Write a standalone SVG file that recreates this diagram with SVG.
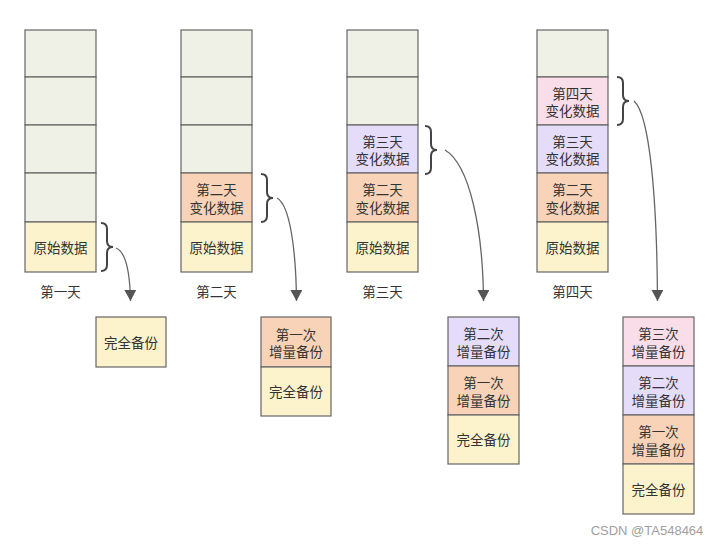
<svg xmlns="http://www.w3.org/2000/svg" width="719" height="545" viewBox="0 0 719 545">
<style>
rect{stroke:#666;stroke-width:1.2}
.e{fill:#eff1e6}.y{fill:#fcf3cd}.o{fill:#f9d3b8}.p{fill:#e4dcf9}.k{fill:#f9dde9}
text{font-family:"Liberation Sans","Noto Sans CJK SC",sans-serif;font-size:13.5px;fill:#333;text-anchor:middle;dominant-baseline:central}
.w{font-family:"Liberation Sans",sans-serif;fill:#a0a0a0;font-size:13px}
.br{fill:none;stroke:#444;stroke-width:2}
.ar{fill:none;stroke:#666;stroke-width:1.3}
</style>
<defs>
<marker id="ah" markerUnits="userSpaceOnUse" markerWidth="14" markerHeight="12" refX="11" refY="6" orient="auto">
<path d="M0,0 L11,6 L0,12 Z" fill="#555"/>
</marker>
</defs>
<rect width="719" height="545" fill="#fff" style="stroke:none"/>

<g id="day1">
<rect class="e" x="25" y="30" width="71" height="47"/>
<rect class="e" x="25" y="77" width="71" height="48"/>
<rect class="e" x="25" y="125" width="71" height="48"/>
<rect class="e" x="25" y="173" width="71" height="49"/>
<rect class="y" x="25" y="222" width="71" height="50"/>
<text x="60.5" y="248">原始数据</text>
<text x="60.5" y="292">第一天</text>
</g>
<g id="day2">
<rect class="e" x="181" y="30" width="71" height="47"/>
<rect class="e" x="181" y="77" width="71" height="48"/>
<rect class="e" x="181" y="125" width="71" height="48"/>
<rect class="o" x="181" y="173" width="71" height="49"/>
<text x="216.5" y="190.5">第二天<tspan x="216.5" dy="17">变化数据</tspan></text>
<rect class="y" x="181" y="222" width="71" height="50"/>
<text x="216.5" y="248">原始数据</text>
<text x="216.5" y="292">第二天</text>
</g>
<g id="day3">
<rect class="e" x="347" y="30" width="71" height="47"/>
<rect class="e" x="347" y="77" width="71" height="48"/>
<rect class="p" x="347" y="125" width="71" height="48"/>
<text x="382.5" y="142">第三天<tspan x="382.5" dy="17">变化数据</tspan></text>
<rect class="o" x="347" y="173" width="71" height="49"/>
<text x="382.5" y="190.5">第二天<tspan x="382.5" dy="17">变化数据</tspan></text>
<rect class="y" x="347" y="222" width="71" height="50"/>
<text x="382.5" y="248">原始数据</text>
<text x="382.5" y="292">第三天</text>
</g>
<g id="day4">
<rect class="e" x="537" y="30" width="71" height="47"/>
<rect class="k" x="537" y="77" width="71" height="48"/>
<text x="572.5" y="94">第四天<tspan x="572.5" dy="17">变化数据</tspan></text>
<rect class="p" x="537" y="125" width="71" height="48"/>
<text x="572.5" y="142">第三天<tspan x="572.5" dy="17">变化数据</tspan></text>
<rect class="o" x="537" y="173" width="71" height="49"/>
<text x="572.5" y="190.5">第二天<tspan x="572.5" dy="17">变化数据</tspan></text>
<rect class="y" x="537" y="222" width="71" height="50"/>
<text x="572.5" y="248">原始数据</text>
<text x="572.5" y="292">第四天</text>
</g>

<g id="backup1">
<rect class="y" x="96" y="317" width="70" height="50"/>
<text x="131" y="343">完全备份</text>
</g>
<g id="backup2">
<rect class="o" x="261" y="317" width="70" height="50"/>
<text x="296" y="335">第一次<tspan x="296" dy="17">增量备份</tspan></text>
<rect class="y" x="261" y="367" width="70" height="49"/>
<text x="296" y="392.5">完全备份</text>
</g>
<g id="backup3">
<rect class="p" x="448" y="317" width="71" height="49"/>
<text x="483.5" y="334.5">第二次<tspan x="483.5" dy="17">增量备份</tspan></text>
<rect class="o" x="448" y="366" width="71" height="49"/>
<text x="483.5" y="383.5">第一次<tspan x="483.5" dy="17">增量备份</tspan></text>
<rect class="y" x="448" y="415" width="71" height="49"/>
<text x="483.5" y="440.5">完全备份</text>
</g>
<g id="backup4">
<rect class="k" x="623" y="317" width="71" height="49"/>
<text x="658.5" y="334.5">第三次<tspan x="658.5" dy="17">增量备份</tspan></text>
<rect class="p" x="623" y="366" width="71" height="49"/>
<text x="658.5" y="383.5">第二次<tspan x="658.5" dy="17">增量备份</tspan></text>
<rect class="o" x="623" y="415" width="71" height="49"/>
<text x="658.5" y="432.5">第一次<tspan x="658.5" dy="17">增量备份</tspan></text>
<rect class="y" x="623" y="464" width="71" height="50"/>
<text x="658.5" y="490">完全备份</text>
</g>

<g id="connectors">
<path class="br" d="M101,223 Q107,223 107,229 L107,241 Q107,247 113,247 Q107,247 107,253 L107,265 Q107,271 101,271"/>
<path class="br" d="M261,174 Q267,174 267,180 L267,192 Q267,198 273,198 Q267,198 267,204 L267,216 Q267,222 261,222"/>
<path class="br" d="M425,126 Q431,126 431,132 L431,144 Q431,150 437,150 Q431,150 431,156 L431,168 Q431,174 425,174"/>
<path class="br" d="M617,77 Q623,77 623,83 L623,95 Q623,101 629,101 Q623,101 623,107 L623,119 Q623,125 617,125"/>
<path class="ar" d="M116,248 C126,252 130,275 130.5,301" marker-end="url(#ah)"/>
<path class="ar" d="M277,198 C290,205 296,250 296.5,301" marker-end="url(#ah)"/>
<path class="ar" d="M445,150 C470,165 483,230 483.5,301" marker-end="url(#ah)"/>
<path class="ar" d="M634,101 C650,115 657,200 657.5,301" marker-end="url(#ah)"/>
</g>
<text class="w" x="647" y="530">CSDN @TA548464</text>
</svg>
